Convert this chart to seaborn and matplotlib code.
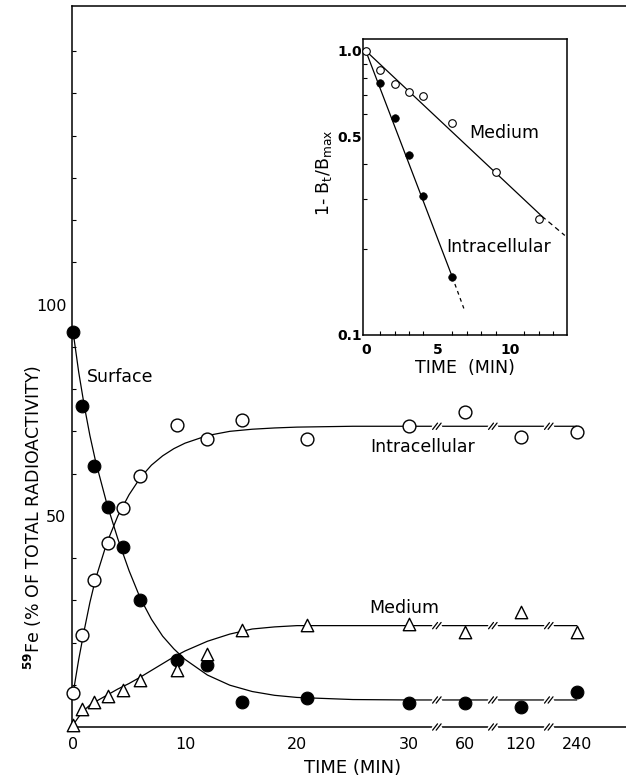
import numpy as np
import pandas as pd
import matplotlib
matplotlib.use("Agg")
import matplotlib.pyplot as plt
from matplotlib.ticker import FixedLocator, NullFormatter
import seaborn as sns

# ---- main panel: measured points (time in min, % of total 59Fe) ----
time_min = [0, 0.8, 1.9, 3.1, 4.5, 6.0, 9.3, 12.0, 15.1, 20.9, 30, 60, 120, 240]
surface = [93.5, 76.0, 61.8, 52.0, 42.6, 30.1, 15.8, 14.6, 6.0, 6.9, 5.7, 5.7, 4.7, 8.4]
intracellular = [8.0, 21.8, 34.8, 43.5, 51.9, 59.5, 71.6, 68.1, 72.8, 68.2, 71.2, 74.6, 68.6, 69.9]
medium = [0.5, 4.2, 6.0, 7.4, 8.8, 11.1, 13.5, 17.4, 23.0, 24.1, 24.3, 22.4, 27.3, 22.4]

# smooth curves
curve_t = [0, 0.5, 1, 1.5, 2, 3, 4, 5, 6, 7, 8, 9, 10, 12, 14, 16, 18, 20, 25, 30, 60, 120, 240]
surface_curve = [93.5, 84, 76, 69, 63, 53, 44.5, 37, 30.5, 25.5, 21.5, 18.5, 16, 12.3, 9.9,
                 8.4, 7.5, 7.0, 6.5, 6.4, 6.4, 6.4, 6.4]
intra_curve = [8, 16, 23, 29.5, 35, 43.5, 50, 55, 59, 62, 64.2, 65.9, 67.2, 69, 70,
               70.5, 70.8, 71, 71.2, 71.2, 71.2, 71.2, 71.2]
medium_curve = [0.5, 2.4, 4, 5.2, 6, 7.5, 9, 10.3, 11.8, 13.4, 15, 16.6, 18, 20.3, 22,
                23.2, 23.7, 24, 24.0, 24.0, 24.0, 24.0, 24.0]

x_ticks_min = [0, 10, 20, 30, 60, 120, 240]
x_tick_labels = ["0", "10", "20", "30", "60", "120", "240"]

# ---- inset: 1 - Bt/Bmax on log scale ----
inset_med_t = [0, 1, 2, 3, 4, 6, 9, 12]
inset_med = [1.0, 0.855, 0.763, 0.717, 0.692, 0.555, 0.375, 0.255]
inset_intra_t = [1, 2, 3, 4, 6]
inset_intra = [0.768, 0.578, 0.430, 0.308, 0.160]
fit_med_t, fit_med = [0, 12.2], [1.0, 0.262]
ext_med_t, ext_med = [12.2, 13.8], [0.262, 0.224]
fit_intra_t, fit_intra = [0, 6.0], [1.0, 0.160]
ext_intra_t, ext_intra = [6.0, 6.8], [0.160, 0.124]


def to_axis(t):
    # linear up to 30 min, then broken axis: each doubling = 5 units
    return t if t <= 30 else 30 + 5 * np.log2(t / 30)


sns.set_style("white")
plt.rcParams["font.family"] = ["DejaVu Sans"]
plt.rcParams.update({"text.color": "black", "axes.labelcolor": "black",
                     "xtick.color": "black", "ytick.color": "black"})

pts = pd.DataFrame({"pos": [to_axis(t) for t in time_min],
                    "surface": surface, "intra": intracellular, "medium": medium})
curves = pd.DataFrame({"pos": [to_axis(t) for t in curve_t],
                       "surface": surface_curve, "intra": intra_curve, "medium": medium_curve})

fig = plt.figure(figsize=(6.26, 7.79), dpi=100)
ax = fig.add_axes([72 / 626, 52 / 779, 554 / 626, 721 / 779])

for col in ["surface", "intra", "medium"]:
    sns.lineplot(data=curves, x="pos", y=col, color="black", linewidth=0.9, ax=ax, zorder=2)

sns.scatterplot(data=pts, x="pos", y="surface", marker="o", s=85, color="black",
                edgecolor="black", ax=ax, zorder=4, clip_on=False)
sns.scatterplot(data=pts, x="pos", y="intra", marker="o", s=85, facecolor="white",
                edgecolor="black", linewidth=1.0, ax=ax, zorder=4, clip_on=False)
sns.scatterplot(data=pts, x="pos", y="medium", marker="^", s=80, facecolor="white",
                edgecolor="black", linewidth=1.0, ax=ax, zorder=4, clip_on=False)


def draw_break(ax, x, y, dx=0.22, dy=0.75, sep=0.32):
    ax.plot([x - 0.3, x + 0.3], [y, y], color="white", lw=2.5, zorder=3, clip_on=False)
    for off in (-sep / 2, sep / 2):
        ax.plot([x + off - dx, x + off + dx], [y - dy, y + dy], color="black",
                lw=0.9, zorder=5, clip_on=False)


for xb in [32.5, 37.5, 42.5]:
    for yb in [surface_curve[-1], intra_curve[-1], medium_curve[-1], 0]:
        draw_break(ax, xb, yb)

ax.set_xlim(-0.1, 49.4)
ax.set_ylim(0, 170.7)
ax.set_xticks([to_axis(t) for t in x_ticks_min])
ax.set_xticklabels(x_tick_labels)
ax.set_yticks([50, 100])
ax.set_yticklabels(["50", "100"])
ax.yaxis.set_minor_locator(FixedLocator([10, 20, 30, 40, 60, 70, 80, 90, 110, 120, 130, 140, 150, 160]))
ax.tick_params(axis="x", direction="in", length=5, width=0.9, pad=7, labelsize=11.5)
ax.tick_params(axis="y", which="major", direction="out", length=3, width=0.9, pad=1, labelsize=11.5)
ax.tick_params(axis="y", which="minor", direction="in", length=3, width=0.8, left=True)
for s in ["left", "bottom", "top"]:
    ax.spines[s].set_linewidth(1.1)
    ax.spines[s].set_color("black")
ax.spines["right"].set_visible(False)

ax.set_xlabel("TIME (MIN)", fontsize=13)
ax.xaxis.set_label_coords(0.507, -0.044)
ax.set_ylabel(r"$^{\mathbf{59}}$Fe (% OF TOTAL RADIOACTIVITY)", fontsize=12.5)
ax.yaxis.set_label_coords(-0.05, 0.291)

ax.text(4.2, 82.8, "Surface", fontsize=12.5, ha="center", va="center")
ax.text(31.2, 66.3, "Intracellular", fontsize=12.5, ha="center", va="center")
ax.text(29.6, 28.2, "Medium", fontsize=12.5, ha="center", va="center")

# ---- inset ----
axi = fig.add_axes([363 / 626, 444 / 779, 203.7 / 626, 296 / 779])
axi.set_yscale("log")
fits = [(fit_med_t, fit_med, "-"), (ext_med_t, ext_med, (0, (4, 3))),
        (fit_intra_t, fit_intra, "-"), (ext_intra_t, ext_intra, (0, (3, 3)))]
for xs, ys, ls in fits:
    sns.lineplot(x=xs, y=ys, color="black", linewidth=0.9, linestyle=ls, ax=axi)
sns.scatterplot(x=inset_med_t, y=inset_med, marker="o", s=30, facecolor="white",
                edgecolor="black", linewidth=0.8, ax=axi, zorder=4, clip_on=False)
sns.scatterplot(x=inset_intra_t, y=inset_intra, marker="o", s=30, color="black",
                edgecolor="black", ax=axi, zorder=4, clip_on=False)

axi.set_xlim(-0.19, 13.93)
axi.set_ylim(0.1, 1.1)
axi.set_xticks([0, 5, 10])
axi.xaxis.set_minor_locator(FixedLocator(range(1, 14)))
axi.yaxis.set_major_locator(FixedLocator([0.1, 0.5, 1.0]))
axi.set_yticklabels(["0.1", "0.5", "1.0"])
axi.yaxis.set_minor_locator(FixedLocator([0.2, 0.3, 0.4, 0.6, 0.7, 0.8, 0.9]))
axi.yaxis.set_minor_formatter(NullFormatter())
axi.tick_params(axis="x", which="major", direction="in", length=6, width=0.8, pad=6)
axi.tick_params(axis="x", which="minor", direction="in", length=3, width=0.8, bottom=True)
axi.tick_params(axis="y", which="major", direction="in", length=4, width=0.8, pad=1)
axi.tick_params(axis="y", which="minor", direction="in", length=3, width=0.8, left=True)
for lab in axi.get_xticklabels() + axi.get_yticklabels():
    lab.set_fontweight("bold")
    lab.set_fontsize(10)
for s in axi.spines.values():
    s.set_linewidth(1.1)
    s.set_color("black")

axi.set_xlabel("TIME  (MIN)", fontsize=12.5, labelpad=1)
axi.set_ylabel(r"1- B$_{\mathrm{t}}$/B$_{\mathrm{max}}$", fontsize=12.5)
axi.yaxis.set_label_coords(-0.142, 0.547)
axi.text(9.58, 0.5156, "Medium", fontsize=12.5, ha="center", va="center")
axi.text(9.19, 0.204, "Intracellular", fontsize=12.5, ha="center", va="center")

fig.savefig("out.png", dpi=100, facecolor="white")
